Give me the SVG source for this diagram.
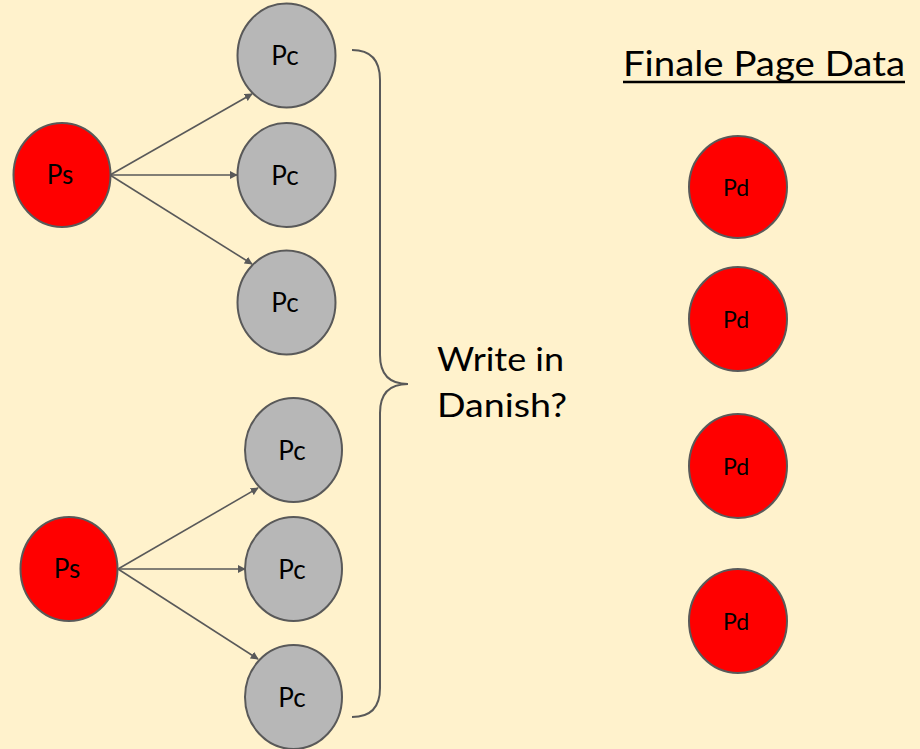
<svg xmlns="http://www.w3.org/2000/svg" width="920" height="749" viewBox="0 0 920 749">
<defs>
<style>
.bg{fill:#fff2cc}
.ps,.pd{fill:#ff0000;stroke:#595959;stroke-width:2}
.pc{fill:#b7b7b7;stroke:#595959;stroke-width:2}
.lbl{font-family:"Lato","Liberation Sans",sans-serif;fill:#000;text-anchor:middle}
.big{font-family:"Lato","Liberation Sans",sans-serif;fill:#000}
.edge{stroke:#595959;stroke-width:1.6;fill:none;marker-end:url(#ah)}
.brace{stroke:#595959;stroke-width:2;fill:none}
</style>
<marker id="ah" viewBox="0 0 10 10" refX="9" refY="5" markerWidth="8" markerHeight="8" markerUnits="userSpaceOnUse" orient="auto">
<path d="M0,0 L10,5 L0,10 z" fill="#595959"/>
</marker>
</defs>
<rect class="bg" x="0" y="0" width="920" height="749"/>
<g id="connectors">
<line class="edge" x1="110" y1="175" x2="252" y2="94"/>
<line class="edge" x1="110" y1="175" x2="237" y2="175"/>
<line class="edge" x1="110" y1="175" x2="252" y2="264"/>
<line class="edge" x1="118" y1="569" x2="258" y2="488"/>
<line class="edge" x1="118" y1="569" x2="245" y2="569"/>
<line class="edge" x1="118" y1="569" x2="258" y2="659"/>
</g>
<g id="brace">
<path class="brace" d="M352,50 Q380,50 380,80 L380,355 Q380,384 408,384 Q380,384 380,413 L380,688 Q380,717 352,717"/>
</g>
<g id="ps1"><ellipse class="ps" cx="62" cy="175" rx="48.5" ry="52"/><text class="lbl" x="60" y="184" font-size="26">Ps</text></g>
<g id="pc1"><ellipse class="pc" cx="286.5" cy="55.5" rx="49" ry="52"/><text class="lbl" x="285" y="65" font-size="26">Pc</text></g>
<g id="pc2"><ellipse class="pc" cx="286.5" cy="175" rx="49" ry="52"/><text class="lbl" x="285" y="184.5" font-size="26">Pc</text></g>
<g id="pc3"><ellipse class="pc" cx="286.5" cy="302.5" rx="49" ry="52"/><text class="lbl" x="285" y="312" font-size="26">Pc</text></g>
<g id="ps2"><ellipse class="ps" cx="69" cy="569" rx="48.5" ry="52"/><text class="lbl" x="67" y="578" font-size="26">Ps</text></g>
<g id="pc4"><ellipse class="pc" cx="293.5" cy="450" rx="48.5" ry="52"/><text class="lbl" x="292" y="459.5" font-size="26">Pc</text></g>
<g id="pc5"><ellipse class="pc" cx="293.5" cy="569" rx="48.5" ry="52"/><text class="lbl" x="292" y="578.5" font-size="26">Pc</text></g>
<g id="pc6"><ellipse class="pc" cx="293.5" cy="697" rx="48.5" ry="52"/><text class="lbl" x="292" y="706.5" font-size="26">Pc</text></g>
<g id="pd1"><ellipse class="pd" cx="738" cy="187" rx="49" ry="51"/><text class="lbl" x="736" y="196" font-size="23">Pd</text></g>
<g id="pd2"><ellipse class="pd" cx="738" cy="319" rx="49" ry="52"/><text class="lbl" x="736" y="328" font-size="23">Pd</text></g>
<g id="pd3"><ellipse class="pd" cx="738" cy="466" rx="49" ry="52"/><text class="lbl" x="736" y="475" font-size="23">Pd</text></g>
<g id="pd4"><ellipse class="pd" cx="738" cy="621" rx="49" ry="52"/><text class="lbl" x="736" y="630" font-size="23">Pd</text></g>
<g id="title">
<text class="big" x="623" y="76" font-size="34" textLength="282" lengthAdjust="spacingAndGlyphs">Finale Page Data</text>
<line x1="623" y1="82" x2="905" y2="82" stroke="#000" stroke-width="2.5"/>
</g>
<g id="question">
<text class="big" x="437" y="371" font-size="32" textLength="127" lengthAdjust="spacingAndGlyphs">Write in</text>
<text class="big" x="437" y="417" font-size="32" textLength="130" lengthAdjust="spacingAndGlyphs">Danish?</text>
</g>
</svg>
